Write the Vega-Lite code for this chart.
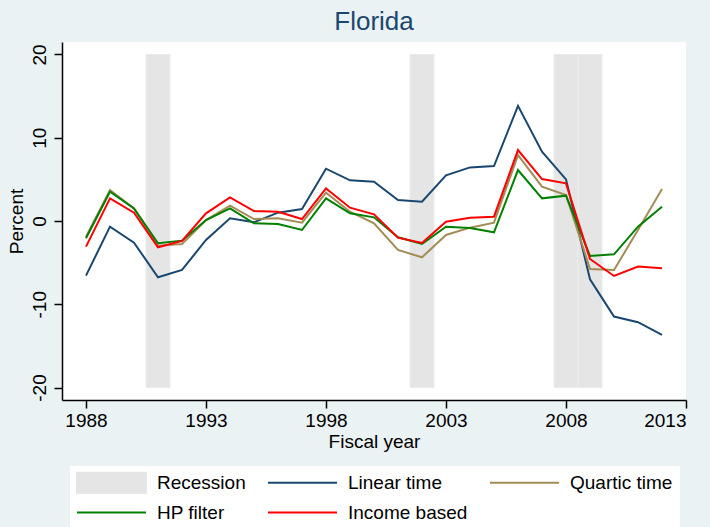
{
  "$schema": "https://vega.github.io/schema/vega-lite/v6.json",
  "width": 624,
  "height": 358,
  "autosize": {"type": "none"},
  "padding": {"left": 62, "top": 42, "right": 24, "bottom": 127},
  "background": "#eaf2f3",
  "title": {"text": "Florida", "fontSize": 26, "fontWeight": "normal", "color": "#1a476f", "font": "Liberation Sans", "offset": 7, "anchor": "middle"},
  "config": {
    "font": "Liberation Sans",
    "view": {"fill": "white", "stroke": null},
    "axis": {"domainColor": "black", "domainWidth": 1.5, "tickColor": "black", "tickWidth": 1.5, "tickSize": 8, "labelFontSize": 19, "labelColor": "black", "titleFontSize": 19, "titleFontWeight": "normal", "titleColor": "black", "grid": false, "labelFont": "Liberation Sans", "titleFont": "Liberation Sans"},
    "legend": {"orient": "none", "legendX": 8, "legendY": 424, "columns": 3, "direction": "horizontal",
            "fillColor": "white", "padding": 7, "labelFontSize": 19, "labelColor": "black", "labelFont": "Liberation Sans",
            "symbolSize": 100, "symbolStrokeWidth": 2, "symbolOffset": 25, "labelOffset": 36,
            "columnPadding": 18, "rowPadding": 1, "gridAlign": "each", "labelLimit": 400}
  },
  "datasets": {
    "recession": [
      {"series": "Recession", "start": 1990.5, "end": 1991.5},
      {"series": "Recession", "start": 2001.5, "end": 2002.5},
      {"series": "Recession", "start": 2007.5, "end": 2008.5},
      {"series": "Recession", "start": 2008.5, "end": 2009.5}
    ],
    "gap": [
      {"year": 1988, "Linear time": -6.56, "Quartic time": -1.9, "HP filter": -2.08, "Income based": -3.08},
      {"year": 1989, "Linear time": -0.68, "Quartic time": 3.72, "HP filter": 3.52, "Income based": 2.72},
      {"year": 1990, "Linear time": -2.6, "Quartic time": 1.5, "HP filter": 1.52, "Income based": 1.0},
      {"year": 1991, "Linear time": -6.76, "Quartic time": -2.96, "HP filter": -2.68, "Income based": -3.16},
      {"year": 1992, "Linear time": -5.88, "Quartic time": -2.76, "HP filter": -2.36, "Income based": -2.4},
      {"year": 1993, "Linear time": -2.28, "Quartic time": 0.1, "HP filter": 0.12, "Income based": 0.92},
      {"year": 1994, "Linear time": 0.32, "Quartic time": 1.84, "HP filter": 1.52, "Income based": 2.84},
      {"year": 1995, "Linear time": -0.16, "Quartic time": 0.24, "HP filter": -0.28, "Income based": 1.2},
      {"year": 1996, "Linear time": 1.0, "Quartic time": 0.32, "HP filter": -0.36, "Income based": 1.12},
      {"year": 1997, "Linear time": 1.44, "Quartic time": -0.2, "HP filter": -1.08, "Income based": 0.24},
      {"year": 1998, "Linear time": 6.28, "Quartic time": 3.4, "HP filter": 2.72, "Income based": 3.92},
      {"year": 1999, "Linear time": 4.88, "Quartic time": 1.12, "HP filter": 0.92, "Income based": 1.6},
      {"year": 2000, "Linear time": 4.72, "Quartic time": -0.28, "HP filter": 0.44, "Income based": 0.8},
      {"year": 2001, "Linear time": 2.52, "Quartic time": -3.48, "HP filter": -1.96, "Income based": -2.0},
      {"year": 2002, "Linear time": 2.32, "Quartic time": -4.36, "HP filter": -2.76, "Income based": -2.64},
      {"year": 2003, "Linear time": 5.48, "Quartic time": -1.68, "HP filter": -0.68, "Income based": -0.08},
      {"year": 2004, "Linear time": 6.44, "Quartic time": -0.8, "HP filter": -0.84, "Income based": 0.4},
      {"year": 2005, "Linear time": 6.6, "Quartic time": -0.2, "HP filter": -1.36, "Income based": 0.52},
      {"year": 2006, "Linear time": 13.84, "Quartic time": 7.92, "HP filter": 6.12, "Income based": 8.52},
      {"year": 2007, "Linear time": 8.32, "Quartic time": 4.12, "HP filter": 2.72, "Income based": 5.04},
      {"year": 2008, "Linear time": 5.0, "Quartic time": 3.12, "HP filter": 3.04, "Income based": 4.52},
      {"year": 2009, "Linear time": -7.0, "Quartic time": -5.76, "HP filter": -4.2, "Income based": -4.56},
      {"year": 2010, "Linear time": -11.48, "Quartic time": -5.88, "HP filter": -4.0, "Income based": -6.6},
      {"year": 2011, "Linear time": -12.16, "Quartic time": -1.08, "HP filter": -0.68, "Income based": -5.48},
      {"year": 2012, "Linear time": -13.68, "Quartic time": 3.84, "HP filter": 1.72, "Income based": -5.68}
    ]
  },
  "layer": [
    {
      "data": {"name": "recession"},
      "mark": {"type": "rect", "stroke": "#e9eded", "strokeWidth": 1},
      "encoding": {
        "x": {"field": "start", "type": "quantitative", "scale": {"domain": [1987, 2013], "nice": false, "zero": false},
              "axis": {"values": [1988, 1993, 1998, 2003, 2008, 2013], "format": "d", "title": "Fiscal year", "labelPadding": 3, "titlePadding": 2}},
        "x2": {"field": "end"},
        "y": {"datum": -20, "type": "quantitative", "scale": {"domain": [-21.5, 21.5], "nice": false, "zero": false},
              "axis": {"values": [-20, -10, 0, 10, 20], "labelAngle": -90, "labelExpr": "'' + datum.value", "title": "Percent", "labelPadding": 5, "titlePadding": 4}},
        "y2": {"datum": 20},
        "color": {
          "field": "series", "type": "nominal",
          "scale": {"domain": ["Recession", "Linear time", "Quartic time", "HP filter", "Income based"],
                    "range": ["#e5e5e5", "#1a476f", "#a38c55", "#008000", "#ff0000"]},
          "legend": {
            "title": null,
            "encode": {"symbols": {"update": {
              "shape": {"signal": "datum.value === 'Recession' ? 'M-6.9,-2H6.9V2H-6.9Z' : 'M0,-2L0,-2M0,2L0,2M-6.9,0H6.9'"},
              "fill": {"signal": "datum.value === 'Recession' ? '#e5e5e5' : 'transparent'"},
              "stroke": {"signal": "datum.value === 'Recession' ? 'transparent' : datum.value === 'Linear time' ? '#1a476f' : datum.value === 'Quartic time' ? '#a38c55' : datum.value === 'HP filter' ? '#008000' : '#ff0000'"},
              "strokeWidth": {"value": 2},
              "opacity": {"value": 1}
            }}}
          }
        }
      }
    },
    {
      "mark": {"type": "rule", "color": "black", "strokeWidth": 2},
      "encoding": {"x": {"datum": 1988, "type": "quantitative"}, "x2": {"datum": 2012}, "y": {"datum": 0, "type": "quantitative"}}
    },
    {
      "mark": {"type": "rule", "color": "black", "strokeWidth": 1.5},
      "encoding": {"x": {"datum": 2013, "type": "quantitative"}, "y": {"datum": -21.5, "type": "quantitative"}, "y2": {"datum": 21.5}}
    },
    {
      "data": {"name": "gap"},
      "transform": [{"fold": ["Linear time", "Quartic time", "HP filter", "Income based"], "as": ["series", "value"]}],
      "mark": {"type": "line", "strokeWidth": 2},
      "encoding": {
        "x": {"field": "year", "type": "quantitative"},
        "y": {"field": "value", "type": "quantitative"},
        "color": {"field": "series", "type": "nominal",
          "legend": {
            "title": null,
            "encode": {"symbols": {"update": {
              "shape": {"signal": "datum.value === 'Recession' ? 'M-6.9,-2H6.9V2H-6.9Z' : 'M0,-2L0,-2M0,2L0,2M-6.9,0H6.9'"},
              "fill": {"signal": "datum.value === 'Recession' ? '#e5e5e5' : 'transparent'"},
              "stroke": {"signal": "datum.value === 'Recession' ? 'transparent' : datum.value === 'Linear time' ? '#1a476f' : datum.value === 'Quartic time' ? '#a38c55' : datum.value === 'HP filter' ? '#008000' : '#ff0000'"},
              "strokeWidth": {"value": 2},
              "opacity": {"value": 1}
            }}}
          }
        }
      }
    }
  ]
}
